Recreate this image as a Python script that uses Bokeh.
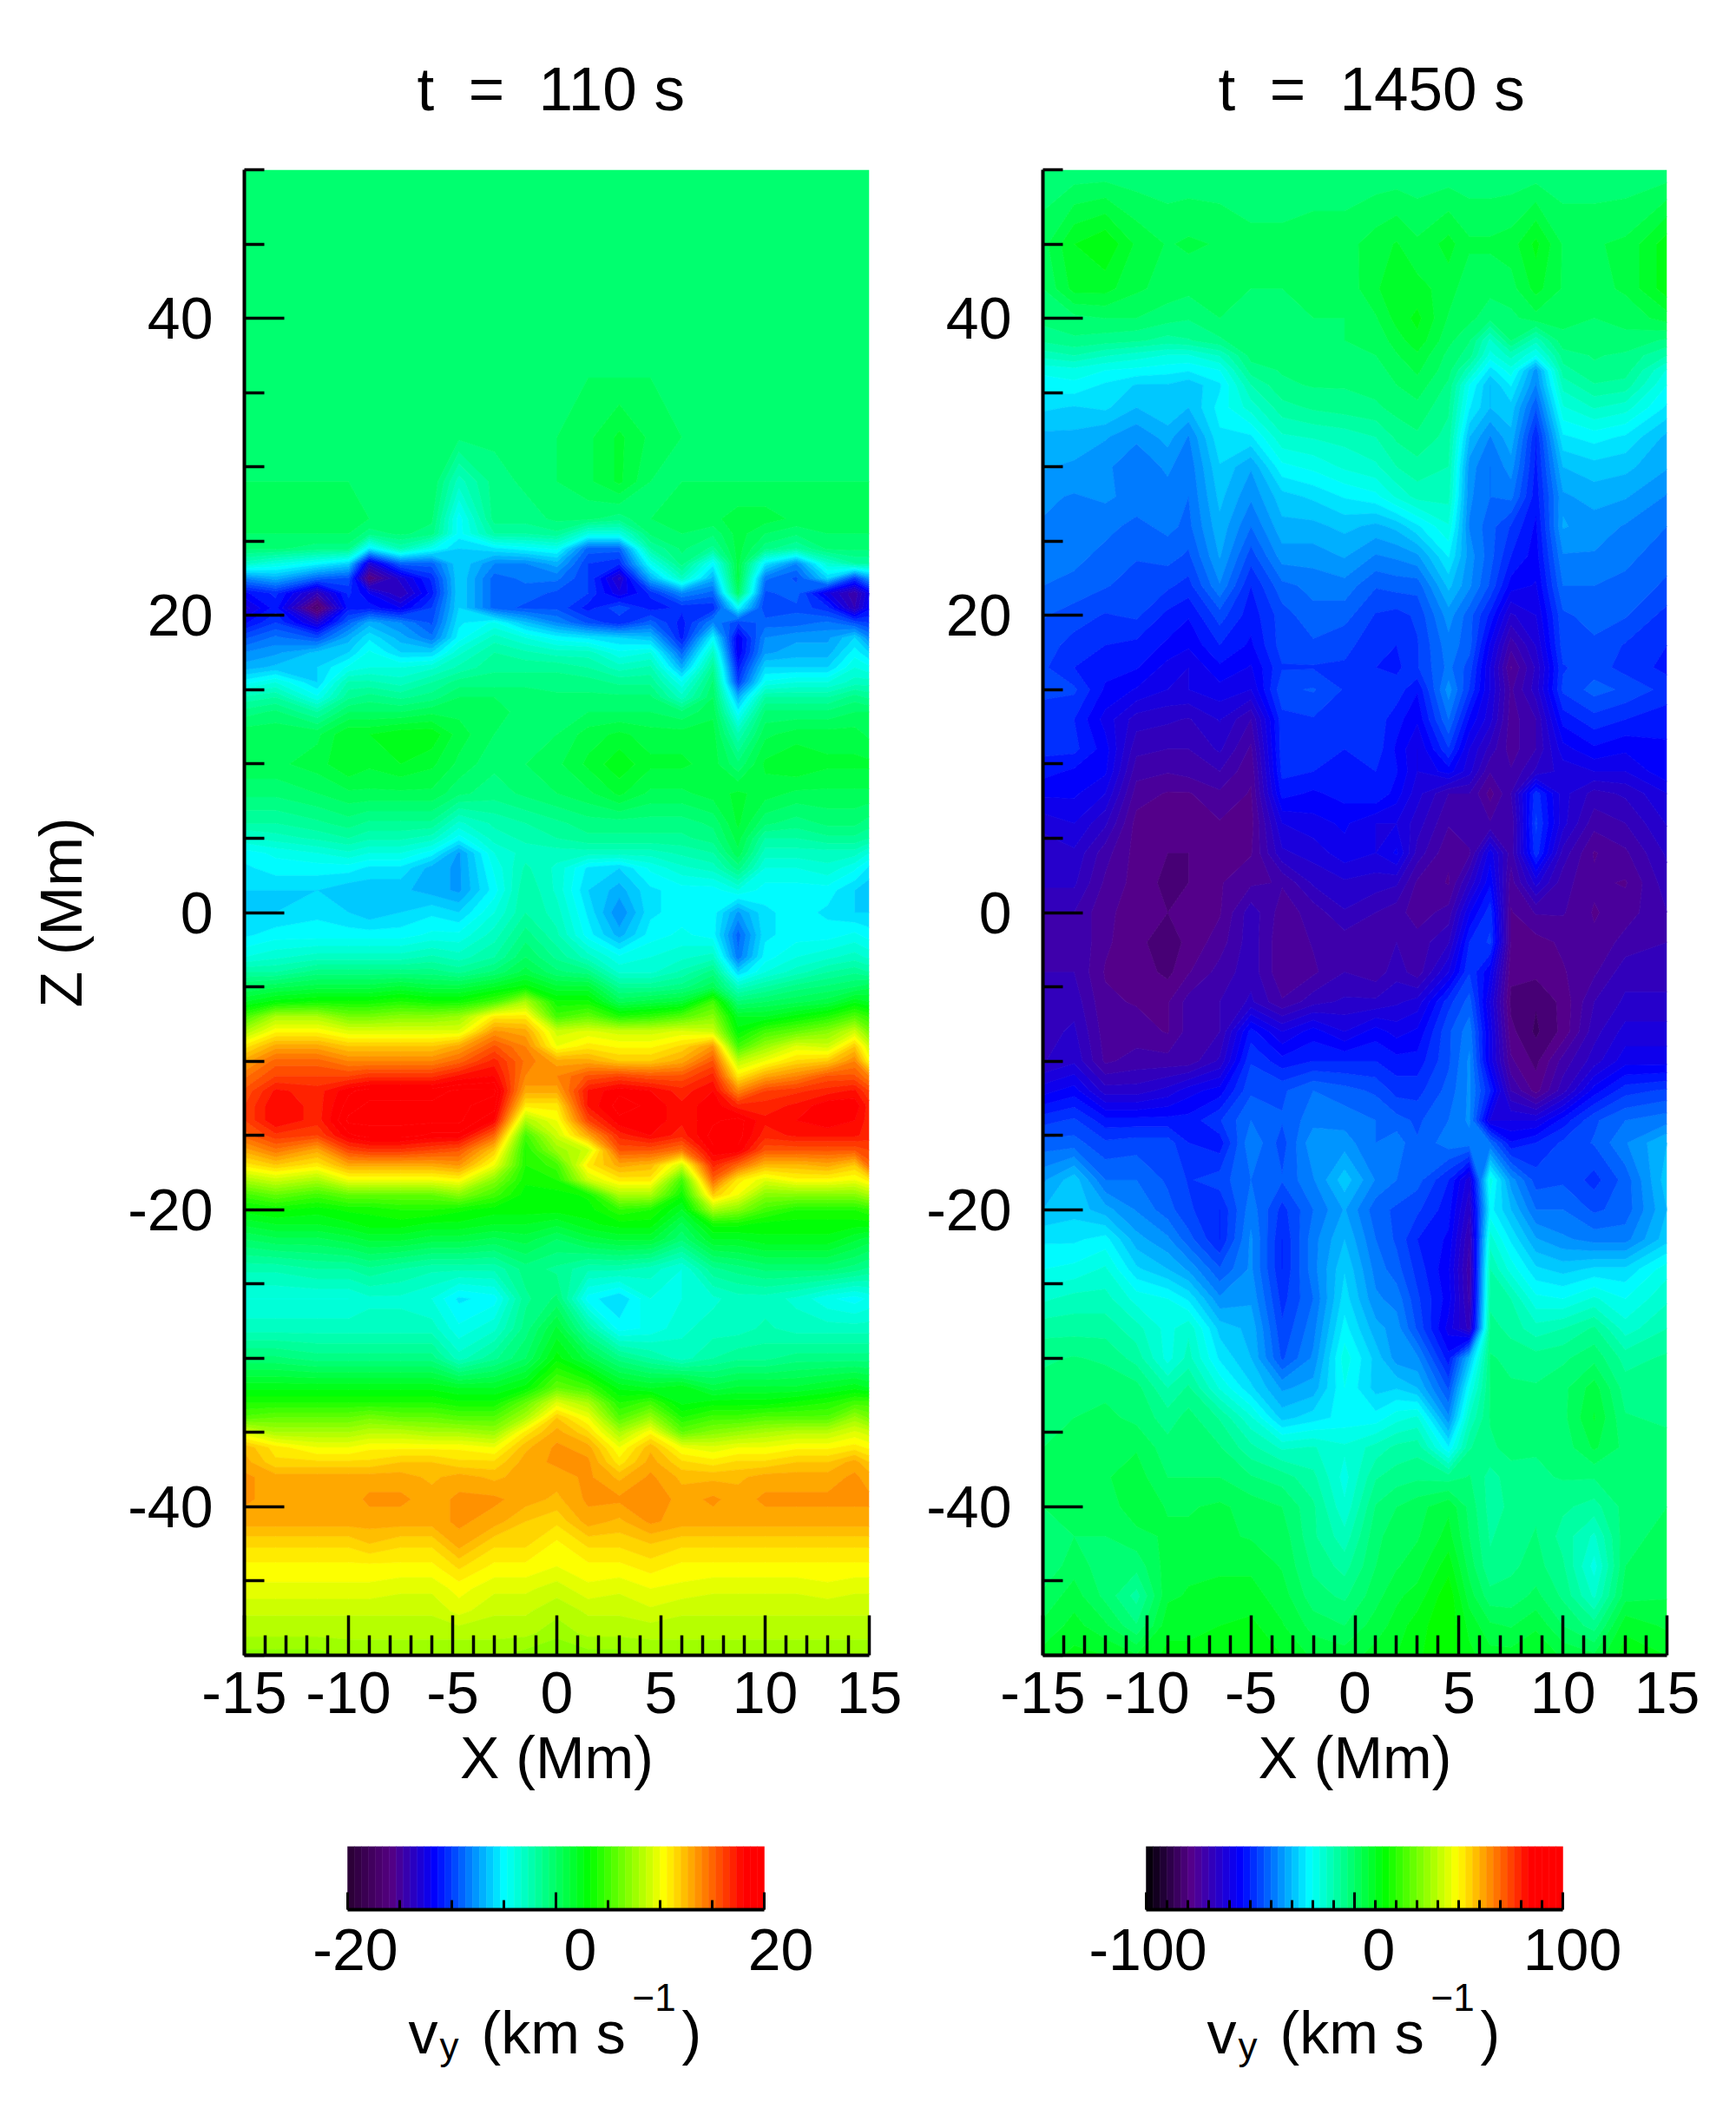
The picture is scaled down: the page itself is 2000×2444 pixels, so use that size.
import numpy as np
from bokeh.core.properties import value
from bokeh.embed import file_html
from bokeh.resources import INLINE
from bokeh.plotting import figure
from bokeh.layouts import row, column
from bokeh.models import Range1d, FixedTicker, LinearAxis

FONT = "Liberation Sans"

title_left = "t\u00a0\u00a0=\u00a0\u00a0110 s"
title_right = "t\u00a0\u00a0=\u00a0\u00a01450 s"

x_left = [-15,-13.5,-11.5,-10,-9,-7.5,-6,-4.7,-3,-1.5,0,1.5,3,4.5,6,7.5,8.7,10,11.5,13,14.3,15]
z_left = [50,36,32,29,26.5,25.5,24.5,23.5,22.5,21.5,20.5,19.5,18.5,17.5,16.5,15.5,14.5,13.5,12,10,8,6,5,4,3,1.5,0,-1.5,-3,-4,-5,-6,-7,-8,-9,-10,-11,-12,-13,-14,-15,-16,-17,-18,-19,-20,-21,-22,-24,-26,-28,-30,-32,-33,-34,-35,-36,-37,-38,-39.5,-41,-42.5,-44,-45.5,-47,-48.5,-50]
v_left = [
[0,0,0,0,0,0,0,0,0,0,0,0,0,0,0,0,0,0,0,0,0,0],
[0,0,0,0,0,0,0,0,0,0,0,0,0,0,0,0,0,0,0,0,0,0],
[0,0,0,0,0,0,0,-.5,-.5,0,0,.5,1.5,.5,0,0,0,0,0,0,0,0],
[0,0,0,0,0,0,0,-3,-1,-.5,0,.5,1.5,0,0,0,0,0,0,0,0,0],
[.5,.5,.5,.5,0,0,-.5,-5,-1,-1,-.5,-.5,-1,0,.5,.5,1,1,.5,.5,.5,.5],
[0,0,0,0,-1,-.5,-1,-5,-2,-2,-1.5,-4,-4,-.5,0,-.5,1,0,-.5,0,0,0],
[-.5,-.5,-1,-1,-5.5,-2.5,-4.5,-6,-5.5,-5,-4.5,-9,-9,-2,-.5,-1.5,1,-1,-2,-.5,-.5,-.5],
[-3,-4,-5,-6,-13,-9,-9,-6,-8,-8,-7,-10,-10.5,-4.5,-1,-5,1,-5.5,-8,-3.5,-2,-2],
[-8,-7,-9,-9.5,-16,-13,-10.5,-6,-9,-8.5,-8.5,-10,-13.5,-7,-3,-7,1,-8.5,-9.5,-6,-10,-7.5],
[-11.5,-10.5,-14,-10.5,-12,-14,-11,-6,-9,-9,-9.5,-10,-12.5,-10.5,-8,-9,0,-9.5,-9,-12.5,-14.5,-12],
[-13,-11,-17,-11,-11,-12,-10,-6,-9,-9.5,-9.5,-11,-9.5,-11,-10.5,-10.5,-5,-10,-9.5,-10.5,-14,-11.5],
[-11.5,-10,-13,-9,-7,-8,-9.5,-5.5,-4.5,-6.5,-8,-9.5,-10.5,-9,-11,-8,-10,-9,-9,-8.5,-9.5,-10],
[-9.5,-8.5,-9.5,-7,-5.5,-7,-8.5,-5,-3,-4,-5,-5.5,-6,-6.5,-11,-5,-12,-8,-7.5,-7.5,-6,-8],
[-8,-7.5,-6.5,-6,-4.5,-6,-6,-3.5,-2,-2.5,-3,-3,-4.5,-4,-9,-3,-12,-7.5,-7,-7,-5,-6],
[-7,-6.5,-6,-4.5,-4,-4,-3.5,-2.5,-1.5,-1.5,-1.5,-2,-3,-2.5,-7,-1.5,-11,-6,-6,-6,-4,-4.5],
[-5,-4,-6,-2.5,-2.5,-3,-2,-1,-1,-1,-1,-1,-1.5,-1.5,-4.5,-.5,-10,-4.5,-4,-4,-3,-3],
[-2.5,-2,-4.5,-1.5,-1,-1.5,-1,0,0,0,-.5,-.5,-.5,-.5,-3,0,-7,-2,-2,-2,-1,-1.5],
[-1,-.5,-2,0,0,0,.5,.5,.5,-.5,0,0,0,0,-.5,.5,-5,-.5,-.5,-.5,0,0],
[.5,.5,.5,2,2,2.5,2.5,1,0,0,0,1,1.5,1,1,1,-2.5,.5,1,1,1,.5],
[.5,.5,1,2,1.5,2,1.5,.5,-.5,0,.5,1.5,2.5,1.5,1.5,1,-.5,1.5,2,1.5,1.5,1.5],
[-.5,-.5,0,.5,.5,.5,.5,-.5,-1,-.5,0,.5,1.5,.5,.5,1,1.5,1,.5,.5,.5,.5],
[-2,-2,-1.5,-1,-1.5,-1.5,-1.5,-3.5,-2.5,-2,-1.5,-1,-1,-1,-1,-.5,1.5,-.5,-1,-.5,-.5,-1],
[-3.5,-3,-2.5,-2,-2.5,-2.5,-3,-5,-3,-2.5,-2,-1.5,-1.5,-1.5,-1.5,-1,1,-2,-2,-1.5,-1.5,-2],
[-5,-4.5,-4,-3.5,-4,-4,-5,-7.5,-4,-3,-3,-3,-3,-3,-2.5,-2,.5,-3,-3,-3,-3,-4],
[-5.5,-5,-5,-5,-5.5,-5.5,-7,-7.5,-4.5,-2.5,-3.5,-5.5,-6,-4.5,-3.5,-3,-1,-4,-4,-3.5,-4.5,-5.5],
[-6,-6,-6,-6.5,-6.5,-6.5,-7,-7.5,-5,-2,-3.5,-6,-7,-5.5,-5,-5,-4,-5,-5,-5,-6,-6.5],
[-6,-6,-5.5,-6,-6.5,-6,-5.5,-6,-4,-2,-3,-5.5,-8,-5.5,-5,-5,-7.5,-5.5,-5,-5.5,-6,-6],
[-5.5,-5,-5,-5,-5,-5,-4.5,-4.5,-3,-1,-2.5,-5,-7,-5,-4.5,-5,-9,-5.5,-5,-5,-4.5,-5],
[-4,-3.5,-3,-3,-3,-3,-2.5,-3,-2,0,-1.5,-3,-4.5,-4,-3.5,-3,-8.5,-5,-4,-3.5,-3,-3.5],
[-2,-2,-1,-1,-1,-1,-1,-1.5,-.5,1,-.5,-1,-3.5,-3.5,-2.5,-1,-6,-4,-3,-2,-1.5,-2],
[0,.5,1,1,1,1.5,1,1,2,3,1.5,1.5,-1.5,-1.5,-1,.5,-3,-2,-1,-.5,0,.5],
[2,3,3.5,3.5,3.5,4,3.5,3.5,5,8,3.5,3.5,.5,1,1.5,5,-.5,0,.5,1,2.5,2],
[5,8,8,6.5,6.5,7,7,7.5,11,11,5,6,4,4.5,5.5,7,2,2,3,4,5.5,4.5],
[8,10.5,10.5,9.5,9.5,9.5,9.5,9.5,13.5,13,9,9.5,9,9,9.5,9,3,5,6,7,9,6.5],
[11,13,13,12,12,12,12,13,15.5,14,10,11,10.5,10.5,11.5,13.5,5,7.5,9.5,9,12,9],
[13,15,15,14,14,14,14,15,17,14.5,13,13,12,12,13,15.5,8.5,10,11.5,12,14,10.5],
[14.5,16,16,16,16.5,16.5,16.5,17.5,18,14,14,15.5,16,15.5,15.5,17,11,13,14,15.5,15.5,14],
[15.5,17.5,17,18.5,19,19,19,19.5,19.5,13,13,17.5,18.5,18,17,18,14,16,16.5,17,17.5,16],
[16,18,17,19,19.5,19.5,19.5,19.5,19,11,11,17.5,19,18.5,17.5,18.5,17,17,17.5,18.5,18.5,17],
[16,18,17,19.5,19.5,19.5,19.5,19.5,18,8,10,16,18.5,18.5,17.5,18.5,19,17.5,18,18.5,18,17],
[15,16.5,16,18.5,19,19,18.5,18.5,15,5,9,13,17,18,17,19,19,17,17.5,17.5,17.5,17],
[13,14.5,13,16,16.5,16.5,16,15.5,12,4,7.5,9,15.5,15.5,14.5,18.5,18.5,15.5,15.5,15.5,15.5,16],
[11,12,11,13,13,13,13,13.5,10,4,5,11,13,12.5,9,17,15,12.5,12.5,13,12,15],
[8,9,8,10,10,10,10,10.5,7,3.5,4,9,11,11,5,15,11,9.5,10.5,10.5,10,11],
[5,6,5,6,6,6,6,7,5,3,3,3.5,8,8,3.5,12,10,7,7,7,7,8],
[3,3.5,3,3.5,3.5,4,4,3.5,3,3,3,3,4.5,4,2,8,7,5,4,4,4,4.5],
[1.5,2,2,2.5,3,3,2.5,2.5,2,2,1.5,2.5,3,3,.5,3.5,3.5,3,3,3,3,3],
[0,.5,.5,1,1.5,1.5,1,1,.5,1,0,1,1.5,1.5,-.5,2,2,2.5,2.5,2.5,1.5,1],
[-2.5,-2.5,-2,-2,-1.5,-2,-2.5,-2.5,-2.5,-1,-1.5,-2.5,-2.5,-3,-4,-1.5,-1,-.5,-.5,-.5,-1,-1.5],
[-4,-4,-4,-4,-3.5,-3.5,-4,-5.5,-5,-1.5,-.5,-5,-6,-4,-4,-3.5,-3,-3,-3.5,-4.5,-5,-4.5],
[-3,-3,-3,-3,-3,-3,-3,-4.5,-3.5,-1,1.5,-2,-5,-4.5,-3.5,-3,-3,-2.5,-3,-3,-3,-3],
[-.5,-.5,-1,-1,-1,-1,-1,-3,-1.5,0,3,1,-1,-2,-3,-2,-1.5,-1.5,-1,-1,-1,-1],
[2.5,2.5,2.5,2.5,2.5,2.5,2.5,2,2,3,6,5,2.5,2,2.5,1,1.5,1.5,1.5,2,2.5,2],
[4,4,4,4,4,4,4,3.5,3.5,6,9.5,8,4,5,2.5,3,3,3,3.5,4,5,5],
[5.5,6,6,6,6.5,6,6,5.5,5.5,8,12,10,5.5,7.5,4,5,5,5.5,5.5,5.5,7.5,6.5],
[9.5,8,8,8,8.5,8.5,8,8,7.5,11,13,11.5,8,10.5,6,7,7.5,8,8.5,8.5,9.5,9],
[12.5,11,10,10,10.5,10.5,10.5,10.5,10,12.5,13.5,13,10,12.5,10,9.5,10,10,10.5,10.5,11,10.5],
[13,11.5,11.5,11.5,11.5,12,12,11.5,11.5,13,13.5,13.5,11,13,11.5,11,11.5,11.5,12,12,13,12],
[13.5,13,13,13,13,13,12.5,13,12.5,13,13,13.5,12.5,13.5,12.5,12.5,12.5,13,13,13,13.5,13],
[13.5,13,13,13,13.5,13.5,13,13.5,13.5,13,12.5,13.5,13.5,14,13,13.5,13,13.5,13.5,13.5,13.5,13.5],
[13,13,13,13,13,13,13,13.5,13,12,11.5,13,12.5,13.5,13,13,13,13,13,13,13,13],
[11.5,11.5,11.5,11.5,12,11.5,11.5,13,11.5,11.5,10.5,11.5,11.5,12,11.5,11.5,11.5,11.5,11.5,11.5,11.5,11.5],
[10.5,10.5,10.5,10.5,10.5,10.5,10.5,11.5,10.5,10.5,10,10.5,10.5,11,10.5,10.5,10.5,10.5,10.5,10.5,10.5,10.5],
[9.8,9.8,9.8,9.8,9.8,9.5,9.5,10.3,9.5,9.5,9,9.8,9.5,10,9.8,9.5,9.5,9.5,9.5,9.8,9.5,9.5],
[8.8,8.8,8.8,8.8,8.8,8.8,8.8,9.6,8.8,8.8,8.2,8.8,8.8,9.2,8.8,8.8,8.8,8.8,8.8,8.8,8.8,8.8],
[8.2,8.2,8.2,8.2,8.2,8.2,8.2,8.2,8.2,8.2,7.6,8.2,8.2,8.2,8.2,8.2,8.2,8.2,8.2,8.2,8.2,8.2],
[7,7,7,7.5,7.5,7.5,7.5,7.5,7.5,7,6.5,7,7,7.5,7.5,7.5,7.5,7.5,7.5,7.5,7.5,7.5],
]

x_right = [-15,-13.5,-12,-10.5,-9,-8,-6.5,-5,-3.5,-2,-.5,1,2,3,4.5,5.5,6.5,7.5,8.7,10,11.5,13,15]
z_right = [50,45,42,40,38.5,37.5,36.5,35.5,34,32,30,28,26,24,22,20,18,16.5,15,13,11,9.5,8,6,4,2,0,-2,-4,-6,-8,-10,-12,-14,-15.5,-18,-20,-22,-24,-26,-28,-30,-32,-34,-36,-38,-40,-42,-44,-46,-48,-50]
v_right = [
[-2.5,-2.5,-2.5,-2.5,-2.5,-2.5,-2.5,-2.5,-2.5,-2.5,-2.5,-2.5,-2.5,-2.5,-2.5,-2.5,-2.5,-2.5,-2.5,-2.5,-2.5,-2.5,-2.5],
[2,10,13,6,3,4,3,1,1,2,2,5,7,4,8,4,4,5,11,3,3,4,12],
[0,8,8,4,2,1,1,0,0,1,1,6,10,8,5,1,1,2,8,3,2,4,12],
[-2,-1,0,0,-2,-3,0,0,0,0,0,3,8,11,3,1,-2,-1,2,1,0,1,5],
[-6,-4,-5,-6,-8,-7,-4,0,-1,0,0,1,5,9,1,-3,-14,-3,-12,-1,0,-1,-4],
[-12,-10,-13,-15,-17,-17,-13,-2,-1,-1,-1,0,3,6,-1,-5,-18,-12,-20,-5,-3,-4,-10],
[-19,-18,-20,-21,-22,-23,-20,-5,-3,-2,-2,-1,1,4,-2,-12,-25,-18,-35,-8,-4,-5,-17],
[-22,-21,-24,-27,-27,-29,-24,-10,-4,-3,-3,-2,0,2,-4,-20,-30,-23,-37,-12,-7,-8,-20],
[-26,-27,-26,-30,-27,-30,-22,-15,-8,-6,-5,-4,-2,-1,-6,-23,-30,-28,-43,-17,-13,-15,-24],
[-31,-31,-33,-36,-32,-37,-24,-24,-14,-13,-12,-10,-6,-4,-8,-30,-37,-31,-50,-24,-22,-24,-31],
[-33,-34,-36,-39,-36,-39,-27,-33,-21,-19,-16,-14,-10,-8,-10,-35,-40,-35,-51,-30,-28,-29,-33],
[-36,-37,-36,-38,-38,-40,-29,-36,-28,-26,-23,-21,-16,-12,-12,-36,-40,-39,-52,-34,-32,-33,-37],
[-37,-37,-39,-41,-39,-41,-31,-40,-31,-31,-29,-31,-29,-24,-17,-37,-42,-47,-54,-33,-35,-37,-40],
[-38,-39,-41,-43,-42,-44,-33,-45,-35,-35,-33,-37,-36,-34,-23,-35,-42,-50,-55,-37,-37,-39,-42],
[-40,-41,-43,-45,-46,-48,-37,-50,-41,-39,-38,-43,-42,-42,-29,-36,-44,-55,-57,-40,-40,-41,-44],
[-43,-45,-47,-46,-51,-53,-45,-52,-45,-41,-42,-47,-48,-46,-35,-42,-51,-64,-60,-44,-42,-43,-48],
[-45,-48,-50,-51,-54,-56,-50,-54,-45,-44,-46,-48,-50,-47,-38,-42,-57,-72,-63,-45,-44,-47,-50],
[-46,-50,-52,-53,-58,-60,-54,-57,-47,-47,-47,-50,-51,-47,-39,-45,-60,-77,-66,-47,-45,-48,-51],
[-46,-46,-54,-57,-60,-60,-58,-60,-44,-43,-47,-47,-48,-53,-35,-47,-60,-74,-65,-46,-42,-44,-48],
[-48,-50,-58,-65,-66,-67,-63,-70,-48,-47,-49,-48,-52,-56,-40,-54,-62,-75,-70,-52,-48,-50,-52],
[-49,-49,-55,-69,-70,-70,-66,-74,-48,-48,-50,-48,-54,-60,-47,-60,-68,-75,-70,-58,-54,-56,-54],
[-52,-54,-56,-72,-73,-72,-70,-76,-49,-50,-50,-50,-53,-60,-55,-62,-73,-73,-66,-62,-60,-60,-54],
[-56,-56,-60,-75,-77,-77,-74,-77,-52,-54,-52,-50,-55,-62,-70,-70,-78,-70,-48,-62,-68,-66,-60],
[-62,-60,-66,-78,-79,-78,-77,-78,-60,-58,-56,-60,-60,-65,-73,-70,-73,-73,-46,-62,-72,-70,-63],
[-66,-64,-72,-78,-80,-80,-77,-77,-64,-62,-58,-60,-56,-68,-76,-74,-58,-72,-48,-68,-77,-74,-66],
[-66,-66,-74,-78,-81,-80,-77,-74,-73,-66,-64,-65,-66,-74,-77,-66,-54,-75,-62,-72,-76,-77,-68],
[-70,-70,-76,-78,-80,-79,-77,-68,-75,-72,-67,-70,-72,-75,-72,-57,-48,-77,-73,-73,-77,-75,-70],
[-70,-70,-76,-79,-82,-79,-75,-68,-76,-73,-72,-70,-70,-72,-67,-50,-46,-77,-78,-76,-76,-72,-70],
[-70,-70,-77,-78,-81,-77,-72,-68,-76,-74,-70,-72,-68,-72,-60,-47,-56,-79,-79,-77,-74,-68,-68],
[-68,-68,-76,-77,-77,-72,-70,-66,-73,-68,-66,-66,-64,-62,-48,-42,-60,-81,-83,-79,-70,-66,-66],
[-68,-66,-75,-75,-77,-72,-70,-52,-60,-55,-60,-55,-58,-56,-44,-38,-58,-79,-84,-79,-68,-62,-62],
[-67,-64,-74,-72,-72,-72,-66,-47,-52,-50,-50,-50,-52,-52,-44,-36,-58,-76,-81,-72,-65,-58,-58],
[-58,-55,-65,-65,-62,-58,-55,-44,-44,-40,-42,-44,-48,-48,-42,-36,-50,-70,-78,-68,-55,-48,-46],
[-48,-46,-52,-52,-52,-52,-47,-40,-43,-38,-38,-40,-42,-44,-40,-36,-60,-60,-60,-52,-44,-40,-38],
[-42,-42,-46,-45,-45,-50,-52,-37,-45,-34,-35,-40,-38,-43,-38,-38,-40,-53,-50,-46,-43,-37,-30],
[-34,-28,-40,-40,-44,-47,-45,-40,-43,-37,-28,-37,-40,-42,-50,-62,-18,-35,-45,-44,-48,-42,-28],
[-30,-28,-32,-37,-42,-46,-50,-38,-48,-40,-33,-42,-44,-46,-52,-66,-22,-30,-40,-40,-44,-42,-30],
[-24,-24,-22,-32,-36,-42,-50,-36,-50,-38,-30,-40,-44,-50,-54,-70,-15,-24,-33,-36,-38,-38,-28],
[-20,-19,-16,-26,-30,-34,-43,-36,-50,-38,-27,-38,-42,-48,-56,-72,-10,-18,-26,-28,-26,-26,-18],
[-14,-12,-12,-18,-20,-24,-36,-34,-48,-40,-25,-36,-38,-46,-55,-71,-8,-10,-19,-20,-16,-20,-14],
[-8,-8,-8,-12,-18,-14,-28,-31,-46,-38,-22,-32,-35,-44,-58,-68,-5,-8,-12,-10,-6,-15,-10],
[-4,-3,-4,-8,-18,-12,-24,-30,-44,-36,-18,-28,-35,-36,-52,-30,-3,-4,-5,-4,-1,-8,-6],
[-2,-2,-1,-2,-10,-6,-17,-26,-34,-32,-20,-28,-27,-30,-44,-20,-3,-3,-3,-1,5,-5,-4],
[-1,0,1,-1,-5,-2,-7,-16,-28,-25,-22,-22,-18,-16,-36,-13,-3,-3,-3,-1,7,-3,-4],
[0,1,3,3,-2,-1,-3,-9,-14,-13,-16,-12,-9,-8,-23,-7,-4,-2,-3,-2,4,-1,-2],
[0,3,3,5,0,0,0,-3,-5,-9,-18,-7,-5,-4,-5,-3,-8,-5,-4,-3,-3,-1,-1],
[0,2,1,6,3,3,4,2,0,-6,-16,-3,0,2,6,-1,-8,-6,-4,-6,-8,-2,0],
[-3,0,0,2,4,4,4,3,2,-6,-12,-1,2,3,8,0,-7,-5,-3,-8,-14,-1,1],
[-3,2,-2,-2,5,6,6,6,3,-4,-8,0,3,5,12,2,-6,-4,-2,-6,-18,0,1],
[1,5,-1,-8,6,7,8,8,5,-2,-4,2,6,8,16,5,-2,-2,1,-4,-14,2,3],
[4,8,4,-3,9,9,10,11,7,2,0,5,8,12,16,9,4,3,6,0,-5,9,6],
[8,11,10,7,11,11,12,12,10,6,5,8,10,13,15,11,8,8,10,6,4,12,10],
]

x_ticks = [-15,-10,-5,0,5,10,15]
x_minor = [v for v in range(-15,16) if v % 5 != 0]
z_ticks = [-40,-20,0,20,40]
z_minor = [-50,-45,-35,-30,-25,-15,-10,-5,5,10,15,25,30,35,45,50]

cmap_left = [(0,(40,0,50)),(.105,(85,0,130)),(.21,(0,0,255)),(.377,(0,255,255)),(.58,(0,255,0)),(.76,(255,255,0)),(.95,(255,0,0)),(1,(255,0,0))]
cmap_right = [(0,(0,0,0)),(.11,(85,0,140)),(.228,(0,0,255)),(.394,(0,255,255)),(.572,(0,255,0)),(.747,(255,255,0)),(.92,(255,0,0)),(1,(255,0,0))]

def colours(fracs, cmap):
    f = [c[0] for c in cmap]
    ch = [np.interp(fracs, f, [c[1][i] for c in cmap]) for i in range(3)]
    return ["#%02x%02x%02x" % (int(round(r)), int(round(g)), int(round(b))) for r, g, b in zip(*ch)]

def field(xs, zs, rows, vmax, cmap):
    for i, r in enumerate(rows):
        if len(r) != len(xs):
            raise ValueError(f"row {i} z={zs[i]} has {len(r)}")
    if len(rows) != len(zs):
        raise ValueError(f"{len(rows)} rows, {len(zs)} z")
    levels = np.linspace(-vmax, vmax, 61)
    z = np.array(zs, dtype=float)[::-1]
    v = np.array(rows, dtype=float)[::-1]
    mid = (levels[:-1] + levels[1:]) / 2
    fill = colours((mid + vmax) / (2 * vmax), cmap)
    line = colours((levels + vmax) / (2 * vmax), cmap)
    return np.array(xs, dtype=float), z, v, levels, fill, line

def main_panel(width, height, bl, br, title, title_dx, xs, zs, rows, vmax, cmap, zlabel):
    p = figure(width=width, height=height, min_border_left=bl, min_border_right=br,
               min_border_top=195, min_border_bottom=height - 195 - 1711,
               x_range=Range1d(-15, 15), y_range=Range1d(-50, 50), frame_align=False,
               output_backend="svg", toolbar_location=None, x_axis_location=None, y_axis_location=None)
    p.title.text = title
    p.title.text_font = FONT
    p.title.text_font_size = "71px"
    p.title.text_font_style = "normal"
    p.title.text_color = "black"
    p.title.align = "left"
    p.title.offset = title_dx
    p.title.standoff = 108
    p.outline_line_color = None
    p.grid.visible = False
    X, Z, V, levels, fill, line = field(xs, zs, rows, vmax, cmap)
    p.contour(X, Z, V, levels, fill_color=fill, line_color=line, line_width=1)
    for loc, ticks, minor, label in [("below", x_ticks, x_minor, "X (Mm)"), ("left", z_ticks, z_minor, zlabel)]:
        ax = LinearAxis(ticker=FixedTicker(ticks=ticks, minor_ticks=minor))
        ax.major_label_overrides = {t: str(t) for t in ticks}
        ax.major_tick_in = 46; ax.major_tick_out = 0
        ax.minor_tick_in = 23; ax.minor_tick_out = 0
        ax.axis_line_width = 4; ax.major_tick_line_width = 3.5; ax.minor_tick_line_width = 3.5
        ax.axis_line_color = "black"; ax.major_tick_line_color = "black"; ax.minor_tick_line_color = "black"
        ax.major_label_text_font = FONT; ax.major_label_text_font_size = "68px"; ax.major_label_text_color = "black"
        ax.axis_label_text_font = FONT; ax.axis_label_text_font_size = "68px"; ax.axis_label_text_font_style = "normal"
        ax.axis_label_text_color = "black"
        if label:
            ax.axis_label = label
        if loc == "below":
            ax.major_label_standoff = 19
            ax.axis_label_standoff = 10
        else:
            ax.major_label_standoff = 36
            ax.major_label_orientation = "horizontal"
            ax.axis_label_standoff = 36
        p.add_layout(ax, loc)
    return p

def bar_panel(width, bl, fw, br, vmax, px_per_unit, minor, cmap, tick_labels, label_dx):
    left_px = bl
    bar_left = 400 if vmax == 20 else 280
    lo = -vmax - (bar_left - left_px) / px_per_unit
    hi = lo + fw / px_per_unit
    p = figure(width=width, height=345, min_border_left=bl, min_border_right=br,
               min_border_top=36, min_border_bottom=20,
               x_range=Range1d(lo, hi), y_range=Range1d(-216 / 73, 1), frame_align=False,
               output_backend="svg", toolbar_location=None, x_axis_location=None, y_axis_location=None)
    p.outline_line_color = None
    p.grid.visible = False
    edges = np.linspace(-vmax, vmax, 61)
    fills = colours(((edges[:-1] + edges[1:]) / 2 + vmax) / (2 * vmax), cmap)
    p.quad(left=edges[:-1], right=edges[1:], bottom=0, top=1, fill_color=fills, line_color=fills, line_width=0.5)
    ax = LinearAxis(ticker=FixedTicker(ticks=[-vmax, 0, vmax], minor_ticks=minor), fixed_location=0, bounds=(-vmax, vmax))
    ax.major_label_overrides = {-vmax: "", 0: "", vmax: ""}
    ax.major_label_standoff = 0
    ax.major_tick_in = 20; ax.major_tick_out = 0
    ax.minor_tick_in = 11; ax.minor_tick_out = 0
    ax.axis_line_width = 4; ax.major_tick_line_width = 3; ax.minor_tick_line_width = 3
    p.add_layout(ax, "below")
    def txt(s, dx, dy, size, align="left"):
        p.text(x=[-vmax], y=[0], text=[s], x_offset=dx, y_offset=-dy, text_font=value(FONT),
               text_font_size=size, text_color="black", text_align=align, text_baseline="alphabetic")
    for s, dx in zip(tick_labels, label_dx):
        txt(s, dx, -46, "68px", "center")
    txt("v", 70, -141, "68px")
    txt("y", 106, -157, "44px")
    txt("(km s", 154, -141, "68px")
    txt("\u22121", 328, -101, "44px")
    txt(")", 385, -141, "68px")
    return p

left_main = main_panel(1040, 2090, 281, 39, title_left, 199, x_left, z_left, v_left, 20, cmap_left, "Z (Mm)")
right_main = main_panel(955, 2090, 161, 75, title_right, 202, x_right, z_right, v_right, 100, cmap_right, None)
left_bar = bar_panel(1040, 320, 680, 40, 20, 12, [-15,-10,-5,5,10,15], cmap_left, ["-20","0","20"], [9,268,499])
right_bar = bar_panel(955, 200, 700, 55, 100, 2.4, [v for v in range(-90,100,10) if v != 0], cmap_right, ["-100","0","100"], [2,268,491])

page = row(column(left_main, left_bar), column(right_main, right_bar))
open("out.html", "w").write(file_html(page, INLINE))
